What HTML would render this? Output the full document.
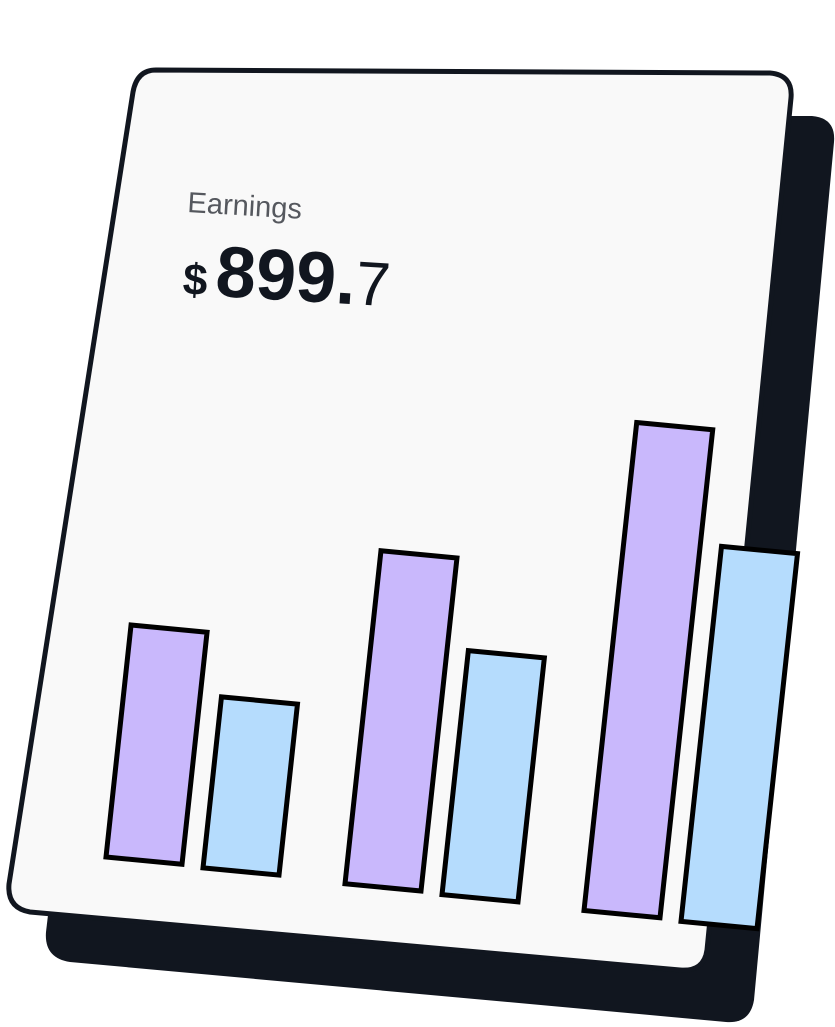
<!DOCTYPE html>
<html><head><meta charset="utf-8"><style>
html,body{margin:0;padding:0;background:#fff;width:835px;height:1027px;overflow:hidden}
svg{display:block}
</style></head><body>
<svg id="chart" width="835" height="1027" viewBox="0 0 835 1027" xmlns="http://www.w3.org/2000/svg">
  <path d="M170 116 L812 116 Q836 118 834 142 L754 1000 Q750 1024 726 1022 L70 962 Q44 958 46 932 L140 140 Q146 116 170 116 Z" fill="#11161f"/>
  <path d="M156 70 L770 73 Q793 75 791 98 L707 950 Q704 972 680 970 L30 912 Q7 908 9 884 L133 92 Q137 70 156 70 Z" fill="#f9f9f9" stroke="#11161f" stroke-width="5"/>
  <g transform="matrix(1,0.06,-0.06,1,0,0)">
    <text x="199" y="200" font-family="Liberation Sans, sans-serif" font-size="29" fill="#55585e">Earnings</text>
    <text x="199" y="282" font-family="Liberation Sans, sans-serif" fill="#11161f"><tspan font-size="44" font-weight="bold">$</tspan><tspan dx="8" font-size="72" font-weight="bold">899.</tspan><tspan font-size="62">7</tspan></text>
  </g>
  <g id="bars"></g>
</svg>
<script>
const categories = ["Group 1", "Group 2", "Group 3"];
const seriesA = [232, 333, 488];
const seriesB = [171, 244, 375];
const seriesNames = ["Series A", "Series B"];

const X0 = 106, Y0 = 857, BASE_SLOPE = 0.112, SKEW = 0.108;
const GROUP_STEP = 239, INNER_OFF = 97, BAR_W = 76, TOP_SLOPE = 0.095;
function uScale(gi, si){ return gi*GROUP_STEP + si*INNER_OFF; }
function hScale(v){ return v; }
function pt(u, h){ return [X0 + u + h*SKEW, Y0 + u*BASE_SLOPE - h]; }
const g = document.getElementById('bars');
const colors = ["#c9b8fc", "#b5dcfd"];
[seriesA, seriesB].forEach((vals, si) => {
  vals.forEach((v, gi) => {
    const u = uScale(gi, si), h = hScale(v);
    const bl = pt(u, 0);
    const br = [bl[0] + BAR_W, bl[1] + BAR_W*TOP_SLOPE];
    const tl = [bl[0] + h*SKEW, bl[1] - h];
    const tr = [br[0] + h*SKEW, br[1] - h];
    const p = document.createElementNS('http://www.w3.org/2000/svg', 'polygon');
    p.setAttribute('points', [tl, tr, br, bl].map(q => q.join(',')).join(' '));
    p.setAttribute('fill', colors[si]);
    p.setAttribute('stroke', '#000');
    p.setAttribute('stroke-width', '5');
    p.setAttribute('stroke-linejoin', 'miter');
    
    
    g.appendChild(p);
  });
});
</script>
</body></html>
